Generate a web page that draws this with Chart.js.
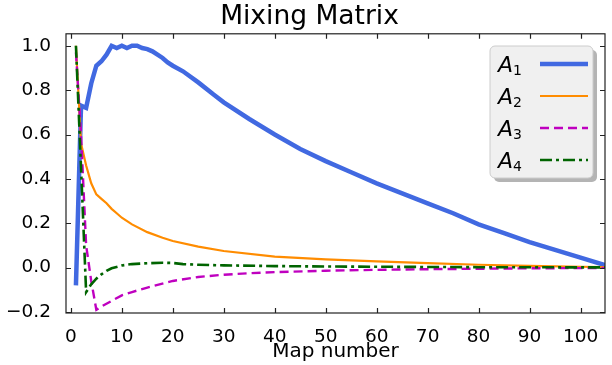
<!DOCTYPE html>
<html>
<head>
<meta charset="utf-8">
<script src="https://cdn.jsdelivr.net/npm/chart.js@4"></script>
<style>
  html, body { margin: 0; padding: 0; background: #fff; }
</style>
</head>
<body>
<canvas id="mix" width="612" height="365"></canvas>
<script>
// values
const mapA1 = [1, 2, 3, 4, 5, 6, 7, 8, 9, 10, 11, 12, 13, 14, 15, 16, 17, 18, 19, 20, 22, 25, 28, 30, 35, 40, 45, 50, 55, 60, 65, 70, 75, 80, 85, 90, 95, 100, 105];
const valA1 = [-0.08, 0.73, 0.72, 0.83, 0.91, 0.93, 0.96, 1.0, 0.99, 1.0, 0.99, 1.0, 1.0, 0.99, 0.985, 0.975, 0.96, 0.945, 0.925, 0.91, 0.885, 0.835, 0.78, 0.745, 0.67, 0.60, 0.535, 0.48, 0.43, 0.38, 0.335, 0.29, 0.245, 0.195, 0.155, 0.115, 0.08, 0.045, 0.01];

const mapA2 = [1, 2, 3, 4, 5, 6, 7, 8, 9, 10, 12, 15, 18, 20, 25, 30, 40, 50, 60, 70, 80, 90, 100, 105];
const valA2 = [1.0, 0.56, 0.46, 0.38, 0.33, 0.31, 0.29, 0.265, 0.245, 0.225, 0.195, 0.16, 0.135, 0.12, 0.095, 0.075, 0.05, 0.037, 0.028, 0.02, 0.013, 0.008, 0.004, 0.002];

const mapA3 = [1, 2, 3, 4, 5, 6, 8, 10, 12, 15, 20, 25, 30, 35, 40, 50, 60, 70, 80, 90, 100, 105];
const valA3 = [0.97, 0.6, 0.1, -0.06, -0.19, -0.175, -0.15, -0.125, -0.11, -0.09, -0.06, -0.042, -0.032, -0.025, -0.02, -0.014, -0.01, -0.007, -0.005, -0.003, -0.002, -0.001];

const mapA4 = [1, 2, 3, 4, 5, 6, 7, 8, 10, 12, 15, 18, 20, 22, 25, 30, 40, 50, 60, 80, 105];
const valA4 = [1.0, 0.45, -0.11, -0.075, -0.05, -0.03, -0.015, -0.003, 0.01, 0.016, 0.02, 0.022, 0.021, 0.016, 0.013, 0.01, 0.007, 0.005, 0.004, 0.002, 0.001];

const names = ['A₁', 'A₂', 'A₃', 'A₄'];
const colors = ['#4169E1', '#FF8C00', '#BF00BF', '#006400'];
const widths = [4.5, 2.2, 2.4, 2.6];
const dashes = [[], [], [9, 5], [12, 4, 3, 4]];

const FONT = "'DejaVu Sans', sans-serif";

const series = [[mapA1, valA1], [mapA2, valA2], [mapA3, valA3], [mapA4, valA4]];

function toPoints(xs, ys) {
    return xs.map((x, i) => ({ x: x, y: ys[i] }));
}

// frame, inward ticks on all four sides and the boxed legend
const frame = {
    id: 'frame',
    afterDatasetsDraw(chart) {
        const ctx = chart.ctx;
        const a = chart.chartArea;
        const x = chart.scales.x, y = chart.scales.y;
        ctx.save();
        ctx.strokeStyle = '#222';
        ctx.lineWidth = 1.2;
        ctx.strokeRect(a.left, a.top, a.right - a.left, a.bottom - a.top);
        ctx.beginPath();
        x.ticks.forEach(t => {
            const p = Math.round(x.getPixelForValue(t.value)) + 0.5;
            ctx.moveTo(p, a.bottom); ctx.lineTo(p, a.bottom - 5);
            ctx.moveTo(p, a.top); ctx.lineTo(p, a.top + 5);
        });
        y.ticks.forEach(t => {
            const p = Math.round(y.getPixelForValue(t.value)) + 0.5;
            ctx.moveTo(a.left, p); ctx.lineTo(a.left + 5, p);
            ctx.moveTo(a.right, p); ctx.lineTo(a.right - 5, p);
        });
        ctx.stroke();

        // legend
        const bx = 490, by = 46, bw = 103, bh = 132;
        ctx.fillStyle = '#b4b4b4';
        ctx.beginPath();
        ctx.roundRect(bx + 4, by + 4, bw, bh, 5);
        ctx.fill();
        ctx.fillStyle = '#f0f0f0';
        ctx.strokeStyle = '#cccccc';
        ctx.lineWidth = 1;
        ctx.beginPath();
        ctx.roundRect(bx, by, bw, bh, 5);
        ctx.fill();
        ctx.stroke();

        chart.data.datasets.forEach((ds, i) => {
            const row = 64 + i * 32;
            ctx.fillStyle = '#000';
            ctx.textBaseline = 'alphabetic';
            ctx.textAlign = 'left';
            ctx.font = 'italic 22px ' + FONT;
            const base = ds.label.charAt(0);
            ctx.fillText(base, 498, row + 8);
            const w = ctx.measureText(base).width;
            const sub = String.fromCharCode(ds.label.charCodeAt(1) - 0x2080 + 48);
            ctx.font = '14px ' + FONT;
            ctx.fillText(sub, 498 + w, row + 11);

            ctx.strokeStyle = ds.borderColor;
            ctx.lineWidth = ds.borderWidth;
            ctx.setLineDash(ds.borderDash);
            ctx.beginPath();
            ctx.moveTo(540, row);
            ctx.lineTo(588, row);
            ctx.stroke();
            ctx.setLineDash([]);
        });
        ctx.restore();
    }
};

function yLabel(v) {
    const r = Math.round(v * 10) / 10;
    return (r < 0 ? '\u2212' : '') + Math.abs(r).toFixed(1);
}

new Chart(document.getElementById('mix').getContext('2d'), {
    type: 'line',
    data: {
        datasets: series.map((s, i) => ({
            label: names[i],
            data: toPoints(s[0], s[1]),
            borderColor: colors[i],
            borderWidth: widths[i],
            borderDash: dashes[i],
            pointRadius: 0,
            tension: 0,
            fill: false,
            order: 3 - i
        }))
    },
    options: {
        responsive: false,
        animation: false,
        layout: { padding: { left: 7, right: 0, top: 0, bottom: 0 } },
        plugins: {
            legend: { display: false },
            tooltip: { enabled: false },
            title: {
                display: true,
                text: 'Mixing Matrix',
                color: '#000',
                font: { family: FONT, size: 26.5, weight: 'normal', lineHeight: 1.2 },
                padding: { top: 1, bottom: 1 }
            }
        },
        scales: {
            x: {
                type: 'linear',
                min: -0.95,
                max: 104.8,
                grid: { display: false },
                border: { display: false },
                ticks: {
                    stepSize: 10,
                    includeBounds: false,
                    autoSkip: false,
                    maxRotation: 0,
                    color: '#000',
                    font: { family: FONT, size: 18.5 },
                    padding: 5
                },
                title: {
                    display: true,
                    text: 'Map number',
                    color: '#000',
                    font: { family: FONT, size: 20, lineHeight: 1.2 },
                    padding: { top: 0, bottom: 1 }
                },
                afterFit: s => { s.height = 52; }
            },
            y: {
                type: 'linear',
                min: -0.2045,
                max: 1.054,
                grid: { display: false },
                border: { display: false },
                ticks: {
                    stepSize: 0.2,
                    includeBounds: false,
                    color: '#000',
                    font: { family: FONT, size: 18.5 },
                    padding: 7,
                    callback: v => yLabel(v)
                },
                afterFit: s => { s.width = 59; }
            },
            // empty right-hand strip so the frame ends at the same place
            y2: {
                type: 'linear',
                position: 'right',
                grid: { display: false },
                border: { display: false },
                ticks: { display: false },
                afterFit: s => { s.width = 7; }
            }
        }
    },
    plugins: [frame]
});
</script>
</body>
</html>
